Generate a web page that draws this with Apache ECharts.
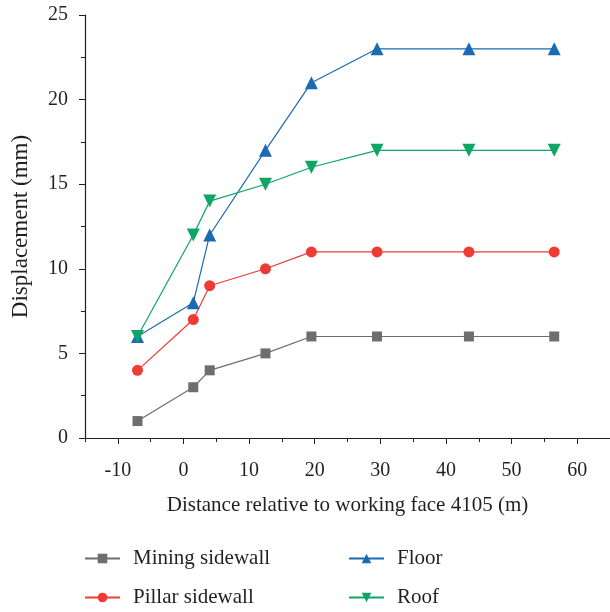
<!DOCTYPE html>
<html><head><meta charset="utf-8">
<script src="https://cdn.jsdelivr.net/npm/echarts@6/dist/echarts.min.js"></script>
<style>html,body{margin:0;padding:0;background:#fff}#c{width:610px;height:612px}</style>
</head><body><div id="c"></div>
<script>
var distances = [-7, 1.5, 4, 12.5, 19.5, 29.5, 43.5, 56.5];
var miningSidewall = [1, 3, 4, 5, 6, 6, 6, 6];
var pillarSidewall = [4, 7, 9, 10, 11, 11, 11, 11];
var floorVals = [6, 8, 12, 17, 21, 23, 23, 23];
var roofVals = [6, 12, 14, 15, 16, 17, 17, 17];
var xTickLabels = [-10, 0, 10, 20, 30, 40, 50, 60];
var xMinorTicks = [-15, -5, 5, 15, 25, 35, 45, 55, 65];
var seriesNames = ['Mining sidewall', 'Pillar sidewall', 'Floor', 'Roof'];
var xTitle = 'Distance relative to working face 4105 (m)';
var yTitle = 'Displacement (mm)';

function pairs(ys){ return distances.map(function(x,i){ return [x, ys[i]]; }); }
var font = '"Liberation Serif", "DejaVu Serif", serif';
var txt = '#231f20';
var chart = echarts.init(document.getElementById('c'));
function mk(name, data, color, symbol, size){
  return {name:name, type:'line', data:pairs(data), symbol:symbol, symbolSize:size,
    lineStyle:{color:color, width:1.2}, itemStyle:{color:color}, z: 3};
}
var legTxt = {color:txt, fontFamily:font, fontSize:21, padding:[0,0,0,8]};
chart.setOption({
  animation:false,
  backgroundColor:'#fff',
  grid:{left:85, top:15, width:528, height:423},
  xAxis:[{type:'value', min:-15, max:65, interval:5,
    axisLine:{onZero:false, lineStyle:{color:txt, width:1.2}},
    axisTick:{customValues:xTickLabels, length:6, lineStyle:{color:txt}},
    splitLine:{show:false},
    axisLabel:{customValues:xTickLabels, color:txt, fontFamily:font, fontSize:20, margin:23},
    name:xTitle, nameLocation:'middle', nameGap:57,
    nameTextStyle:{color:txt, fontFamily:font, fontSize:21}
  },{type:'value', min:-15, max:65, interval:5, position:'bottom',
    axisLine:{show:false},
    axisTick:{customValues:xMinorTicks, length:4, lineStyle:{color:txt}},
    axisLabel:{show:false}, splitLine:{show:false}
  }],
  yAxis:{type:'value', min:0, max:25, interval:5,
    axisLine:{show:true, onZero:false, lineStyle:{color:txt, width:1.2}},
    axisTick:{show:true, length:6, lineStyle:{color:txt}},
    minorTick:{show:true, splitNumber:2, length:4, lineStyle:{color:txt}},
    splitLine:{show:false},
    axisLabel:{color:txt, fontFamily:font, fontSize:20, margin:17},
    name:yTitle, nameLocation:'middle', nameGap:53,
    nameTextStyle:{color:txt, fontFamily:font, fontSize:23}
  },
  legend:[
    {data:[seriesNames[0], seriesNames[1]], orient:'vertical', left:84, top:548, itemGap:18, padding:0,
     itemWidth:35, itemHeight:12, textStyle:legTxt},
    {data:[seriesNames[2], seriesNames[3]], orient:'vertical', left:348, top:548, itemGap:18, padding:0,
     itemWidth:35, itemHeight:12, textStyle:legTxt}
  ],
  series:[
    mk(seriesNames[0], miningSidewall, '#6d6e71', 'rect', 10),
    mk(seriesNames[1], pillarSidewall, '#ee3b33', 'circle', 11),
    mk(seriesNames[2], floorVals, '#1a6ab4', 'triangle', 13),
    mk(seriesNames[3], roofVals, '#0fa564', 'path://M0,0 L10,0 L5,9 Z', 13)
  ]
});
</script></body></html>
